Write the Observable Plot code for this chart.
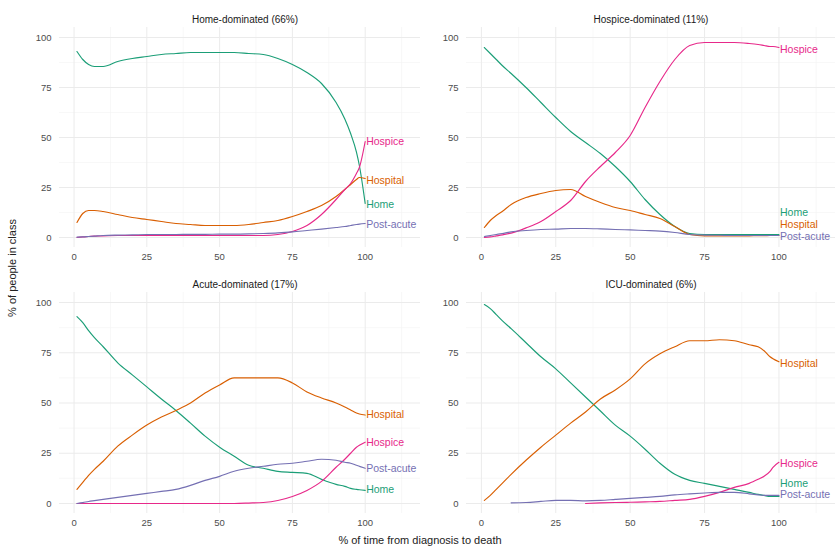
<!DOCTYPE html>
<html>
<head>
<meta charset="utf-8">
<script src="https://cdn.jsdelivr.net/npm/d3@7"></script>
<script src="https://cdn.jsdelivr.net/npm/@observablehq/plot@0.6"></script>
<style>
  body { margin: 0; background: #fff; font-family: "Liberation Sans", Arial, sans-serif; }
  #wrap { position: relative; width: 835px; height: 551px; overflow: hidden; }
  .panel { position: absolute; }
  .axlab { position: absolute; font-size: 11px; color: #222; white-space: nowrap; }
</style>
</head>
<body>
<div id="wrap"></div>
<script>
// ---- data ----
const times = [1,3,5,7,10,15,20,25,30,35,40,45,50,55,60,65,70,75,80,85,90,93,95,97,98,100];
const statuses = ["Home", "Hospital", "Hospice", "Post-acute"];
const statusColors = ["#1b9e77", "#d95f02", "#e7298a", "#7570b3"];
const panelTitles = ["Home-dominated (66%)", "Hospice-dominated (11%)", "Acute-dominated (17%)", "ICU-dominated (6%)"];
const tickValues = [0, 25, 50, 75, 100];
const tickLabels = ["0", "25", "50", "75", "100"];
const xTitle = "% of time from diagnosis to death";
const yTitle = "% of people in class";

// Home-dominated
const homeDomHome     = [93,89,86.5,85.5,85.5,88,89.5,90.5,91.5,92,92.5,92.5,92.5,92.5,92,91.5,89.5,86.5,82.5,77,67.5,59.3,52,42.7,36,17];
const homeDomHospital = [7.5,12,13.5,13.5,13,11.5,10,9,8,7,6.5,6,6,6,6.5,7.5,8.5,10.5,13,16,20.5,24,26.5,29,30,29.5];
const homeDomHospice  = [0,0.3,0.5,0.7,0.8,1,1,1,1,1,1,1,1,1,1,1,1.5,3,6,11.5,19,24,27,32,35,48];
const homeDomPost     = [0.2,0.3,0.5,0.7,1,1.2,1.3,1.5,1.5,1.5,1.6,1.6,1.7,1.7,1.8,2,2.3,2.8,3.5,4.2,5,5.5,6,6.5,6.7,7];
const homeDomLabelY   = [16.5, 28.5, 48, 6.5];

// Hospice-dominated
const hospDomHome     = [95,92,89,86,82,75,67.5,60,53,47.5,42,35.5,28,19,11.5,5.5,2,1.5,1.5,1.5,1.5,1.5,1.5,1.5,1.5,1.5];
const hospDomHospital = [5,8.5,11,13,16.5,20,22,23.5,24,20.5,17.5,15,13.5,11.5,9.5,5.5,1.5,0.8,0.8,0.8,0.8,0.9,0.9,1,1,1];
const hospDomHospice  = [0,0.3,0.8,1.3,2.2,4.8,8,13,18.5,28,35.5,42.5,51,65,78,89,96,97.5,97.5,97.5,97,96.5,96,95.5,95.5,95];
const hospDomPost     = [0.5,1,1.5,2,2.8,3.5,4,4.2,4.5,4.5,4.3,4,3.8,3.5,3.2,2.5,1.5,1.2,1.1,1,1,1,1,1,1,1];
const hospDomLabelY   = [12.5, 6.5, 94, 0.5];

// Acute-dominated
const acuteDomHome     = [93,90,86,82.5,78,70,64,58,52,46.3,40,33.5,28,23.5,19,17.5,16,15.5,15,12,9.5,8.5,7.5,7,6.8,6.5];
const acuteDomHospital = [7,10.5,14,17,21,28.5,34,39,43,46.3,50,55,59,62.5,62.5,62.5,62.5,60,55.5,52.5,50,48,46.5,45,44.5,44];
const acuteDomHospice  = [0,0,0,0,0,0,0,0,0,0,0,0,0,0,0.2,0.5,1.5,3.5,6.5,11,18,22,25,28,29,30.5];
const acuteDomPost     = [0,0.4,1,1.4,2,3,4,5,6,7,9,11.5,13.5,16,17.5,18.5,19.5,20,21,22,21.5,20.5,20,19,18.5,17.5];
const acuteDomLabelY   = [7, 44, 30.5, 17.5];

// ICU-dominated
const icuDomHome     = [99,97,94,91,87,80,73,67,60,53,46,39,33.5,27,20,14.5,11.5,10,8.5,7,5.5,4.5,4,3.5,3.5,3.5];
const icuDomHospital = [1.5,4,7,10,14.5,21.5,28,34,40,45.5,52,56.5,62,69.5,74.5,78,81,81,81.5,81,79,78,76,73,72,70.5];
const icuDomHospice  = [null,null,null,null,null,null,null,null,null,0,0.3,0.5,0.6,0.8,1,1.5,2,3.5,5.5,8,10,12,13.5,16,18,20.5];
const icuDomPost     = [null,null,null,null,0.3,0.5,1,1.5,1.5,1.3,1.5,2,2.5,3,3.5,4.3,4.8,5.2,5.5,5.5,4.8,4.3,4,4,4,4];
const icuDomLabelY   = [10, 69.5, 20, 4.5];

// ---- build ----
const panelSeries = [
  [homeDomHome, homeDomHospital, homeDomHospice, homeDomPost],
  [hospDomHome, hospDomHospital, hospDomHospice, hospDomPost],
  [acuteDomHome, acuteDomHospital, acuteDomHospice, acuteDomPost],
  [icuDomHome, icuDomHospital, icuDomHospice, icuDomPost]
];
const panelLabelY = [homeDomLabelY, hospDomLabelY, acuteDomLabelY, icuDomLabelY];

const layout = [
  {left: 0,   top: 0,   width: 420, height: 265, marginLeft: 59, marginTop: 27, marginBottom: 18, titleDx: 5},
  {left: 407, top: 0,   width: 428, height: 265, marginLeft: 59, marginTop: 27, marginBottom: 18, titleDx: 0},
  {left: 0,   top: 265, width: 420, height: 270, marginLeft: 59, marginTop: 27, marginBottom: 22, titleDx: 5},
  {left: 407, top: 265, width: 428, height: 270, marginLeft: 59, marginTop: 27, marginBottom: 22, titleDx: 0}
];

const FONT = "Liberation Sans, Arial, sans-serif";
const wrap = document.getElementById("wrap");

panelTitles.forEach((title, p) => {
  const rows = [];
  statuses.forEach((s, i) => {
    panelSeries[p][i].forEach((v, j) => rows.push({t: times[j], v, status: s}));
  });
  const labels = statuses.map((s, i) => ({status: s, y: panelLabelY[p][i]}));
  const L = layout[p];
  const chart = Plot.plot({
    width: L.width,
    height: L.height,
    marginLeft: L.marginLeft,
    marginRight: 0,
    marginTop: L.marginTop,
    marginBottom: L.marginBottom,
    style: {fontFamily: FONT, background: "transparent", overflow: "visible"},
    x: {domain: [-5, 119], axis: null},
    y: {domain: [-5, 105], axis: null},
    color: {domain: statuses, range: statusColors},
    marks: [
      Plot.ruleX([12.5, 37.5, 62.5, 87.5, 112.5], {stroke: "#f4f4f4", strokeWidth: 0.6}),
      Plot.ruleY([12.5, 37.5, 62.5, 87.5], {stroke: "#f4f4f4", strokeWidth: 0.6}),
      Plot.ruleX(tickValues, {stroke: "#ebebeb", strokeWidth: 1}),
      Plot.ruleY(tickValues, {stroke: "#ebebeb", strokeWidth: 1}),
      Plot.line(rows, {x: "t", y: "v", z: "status", stroke: "status", strokeWidth: 1.15, curve: "monotone-x"}),
      Plot.text(labels, {x: () => 100, y: "y", text: "status", fill: "status", textAnchor: "start", dx: 1, fontSize: 10.5}),
      Plot.axisX({ticks: tickValues, tickFormat: (d) => tickLabels[tickValues.indexOf(d)], tickSize: 0, tickPadding: 6, fontSize: 9.5, color: "#4d4d4d", label: null}),
      Plot.axisY({ticks: tickValues, tickFormat: (d) => tickLabels[tickValues.indexOf(d)], tickSize: 0, tickPadding: 8, fontSize: 9.5, color: "#4d4d4d", label: null}),
      Plot.text([title], {text: d => d, frameAnchor: "top", dy: -12, dx: L.titleDx, fontSize: 10, fill: "#1a1a1a"})
    ]
  });
  chart.classList.add("panel");
  chart.style.left = L.left + "px";
  chart.style.top = L.top + "px";
  wrap.appendChild(chart);
});

const xl = document.createElement("div");
xl.className = "axlab";
xl.textContent = xTitle;
xl.style.left = "420px";
xl.style.top = "540px";
xl.style.transform = "translate(-50%, -50%)";
wrap.appendChild(xl);

const yl = document.createElement("div");
yl.className = "axlab";
yl.textContent = yTitle;
yl.style.left = "12px";
yl.style.top = "268px";
yl.style.transform = "translate(-50%, -50%) rotate(-90deg)";
wrap.appendChild(yl);
</script>
</body>
</html>
